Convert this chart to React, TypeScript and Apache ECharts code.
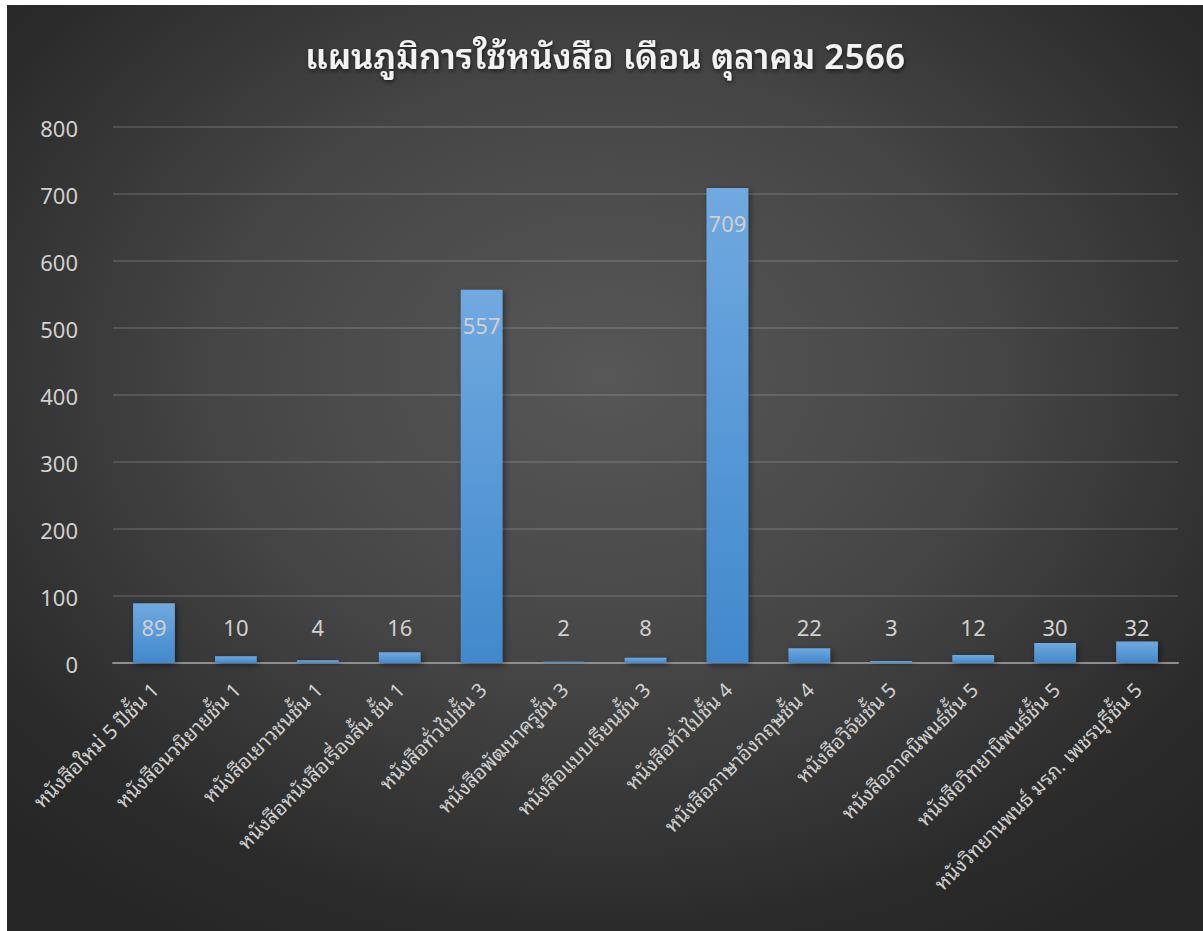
import React, { useEffect, useRef } from "react";
import * as echarts from "echarts";

const TITLE = "แผนภูมิการใช้หนังสือ เดือน ตุลาคม 2566";

const categories: string[] = [
  "หนังสือใหม่ 5 ปีชั้น 1",
  "หนังสือนวนิยายชั้น 1",
  "หนังสือเยาวชนชั้น 1",
  "หนังสือหนังสือเรื่องสั้น ชั้น 1",
  "หนังสือทั่วไปชั้น 3",
  "หนังสือพัฒนาครูชั้น 3",
  "หนังสือแบบเรียนชั้น 3",
  "หนังสือทั่วไปชั้น 4",
  "หนังสือภาษาอังกฤษชั้น 4",
  "หนังสือวิจัยชั้น 5",
  "หนังสือภาคนิพนธ์ชั้น 5",
  "หนังสือวิทยานิพนธ์ชั้น 5",
  "หนังวิทยานพนธ์ มรภ. เพชรบุรีชั้น 5",
];

const values: number[] = [89, 10, 4, 16, 557, 2, 8, 709, 22, 3, 12, 30, 32];

const yTicks = { min: 0, max: 800, interval: 100 };

const FONT =
  '"Noto Sans Thai Looped", Loma, Garuda, Tahoma, "Noto Sans Thai", "Noto Sans", sans-serif';

export default function App() {
  const ref = useRef<HTMLDivElement>(null);

  useEffect(() => {
    if (!ref.current) return;
    const chart = echarts.init(ref.current, undefined, { renderer: "svg" });
    const data = values.map((v) => ({
      value: v,
      label:
        v > 300
          ? { position: "insideTop" as const, distance: 23 }
          : { position: "insideBottom" as const, distance: 26 },
    }));
    chart.setOption({
      animation: false,
      backgroundColor: "transparent",
      title: {
        text: TITLE,
        left: "center",
        top: 25,
        textStyle: {
          color: "#f2f2f2",
          fontSize: 35,
          fontWeight: 600,
          fontFamily: FONT,
          textShadowColor: "rgba(0,0,0,0.6)",
          textShadowBlur: 4,
          textShadowOffsetX: 1,
          textShadowOffsetY: 2,
        },
      },
      grid: { left: 106, right: 25, top: 122, bottom: 268, containLabel: false },
      xAxis: {
        type: "category",
        data: categories,
        axisLine: { lineStyle: { color: "#8e8e8e", width: 2 } },
        axisTick: { show: false },
        axisLabel: {
          rotate: 45,
          interval: 0,
          color: "#d0d0d0",
          fontSize: 20,
          fontFamily: FONT,
          margin: 22,
        },
      },
      yAxis: {
        type: "value",
        min: yTicks.min,
        max: yTicks.max,
        interval: yTicks.interval,
        axisLine: { show: false },
        axisTick: { show: false },
        splitLine: { lineStyle: { color: "rgba(255,255,255,0.13)", width: 2 } },
        axisLabel: {
          color: "#d0d0d0",
          fontSize: 22,
          fontFamily: FONT,
          margin: 35,
          padding: [0, 0, 5, 0],
        },
      },
      series: [
        {
          type: "bar",
          data,
          barWidth: "51%",
          itemStyle: {
            color: new echarts.graphic.LinearGradient(0, 0, 0, 1, [
              { offset: 0, color: "#70a9e0" },
              { offset: 1, color: "#4189cc" },
            ]),
            shadowColor: "rgba(0,0,0,0.45)",
            shadowBlur: 6,
            shadowOffsetX: 2,
            shadowOffsetY: 2,
          },
          label: {
            show: true,
            color: "#d0d0d0",
            fontSize: 22,
            fontFamily: FONT,
          },
        },
      ],
    });
    return () => chart.dispose();
  }, []);

  return (
    <div
      ref={ref}
      style={{
        position: "absolute",
        left: 7,
        top: 5,
        width: 1196,
        height: 926,
        background:
          "radial-gradient(ellipse 70% 70% at 50% 40%, #575757 0%, #464646 45%, #2b2b2b 85%, #262626 100%)",
      }}
    />
  );
}
